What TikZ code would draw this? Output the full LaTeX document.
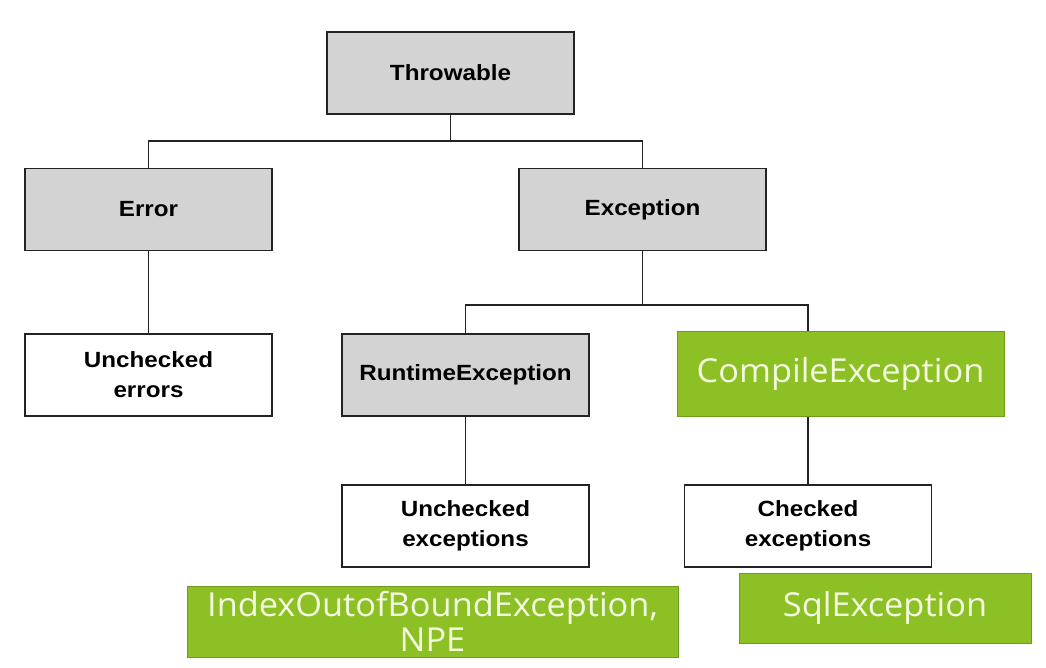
\documentclass[tikz,border=0pt]{standalone}
\usepackage{fontspec}
\setmainfont{Liberation Sans}[FakeStretch=1.1]
\newfontfamily\greenfont{Open Sans}[FakeStretch=1.04]
\definecolor{boxgray}{RGB}{211,211,211}
\definecolor{boxgreen}{RGB}{141,192,36}
\definecolor{greenedge}{RGB}{112,156,30}
\definecolor{greentext}{RGB}{244,252,225}
\definecolor{edgedark}{RGB}{35,35,35}
\begin{document}
\begin{tikzpicture}[x=1pt,y=-1pt,
  base/.style={rectangle, draw=edgedark, line width=1.8pt, align=center,
    font=\fontsize{22}{30}\selectfont\bfseries, inner sep=0pt},
  graybox/.style={base, fill=boxgray, minimum width=247pt, minimum height=82pt},
  whitebox/.style={base, fill=white, minimum width=247pt, minimum height=82pt},
  greenbox/.style={rectangle, draw=greenedge, line width=1pt, fill=boxgreen,
    text=greentext, align=center, inner sep=0pt,
    font=\greenfont\fontsize{33}{35}\selectfont},
  link/.style={draw=edgedark, line width=1.8pt}]
\fill[white] (0,0) rectangle (1046,668);
\useasboundingbox (0,0) rectangle (1046,668);

\node[graybox] (thr) at (450.5,73) {Throwable};
\node[graybox] (err) at (148.5,209.5) {Error};
\node[graybox] (exc) at (642.5,209.5) {Exception};
\node[whitebox] (uerr) at (148.5,375) {Unchecked\\errors};
\node[graybox] (rte) at (465.5,375) {RuntimeException};
\node[greenbox, minimum width=327pt, minimum height=85pt] (cmp) at (840.5,374) {CompileException};
\node[whitebox] (uexc) at (465.5,526) {Unchecked\\exceptions};
\node[whitebox] (cexc) at (808,526) {Checked\\exceptions};
\node[greenbox, minimum width=491pt, minimum height=71pt] (iob) at (432.5,621.5) {IndexOutofBoundException,\\NPE};
\node[greenbox, minimum width=292pt, minimum height=70pt] (sql) at (885,608) {SqlException};

\coordinate (j1) at (450.5,141);
\coordinate (j2) at (642.5,305);
\draw[link] (thr.south) -- (j1);
\draw[link] (err.north) |- (j1) -| (exc.north);
\draw[link] (err.south) -- (uerr.north);
\draw[link] (exc.south) -- (j2);
\draw[link] (rte.north) |- (j2) -| ([xshift=-32.5pt]cmp.north);
\draw[link] (rte.south) -- (uexc.north);
\draw[link] ([xshift=-32.5pt]cmp.south) -- (cexc.north);
\end{tikzpicture}
\end{document}
